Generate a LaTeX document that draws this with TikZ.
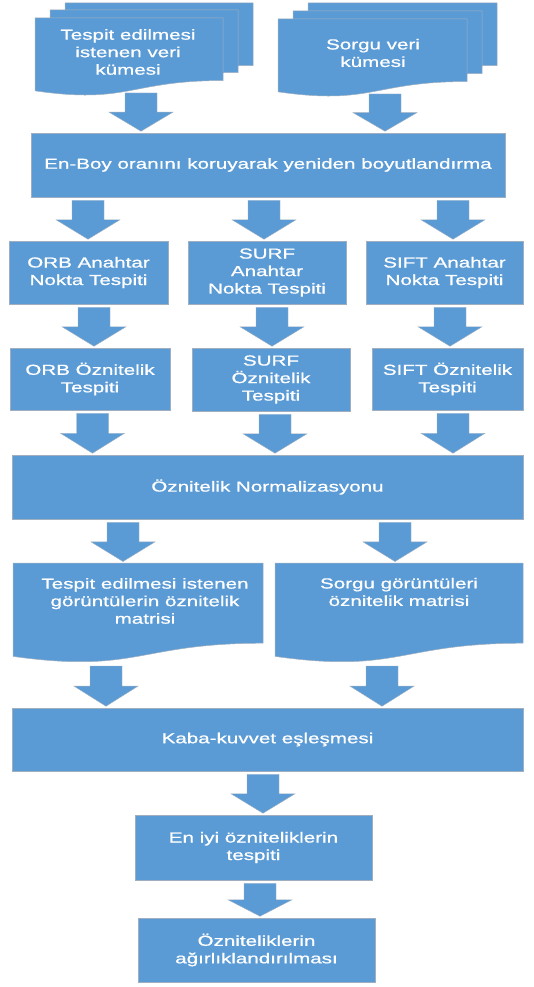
\documentclass[tikz,border=0pt]{standalone}
\usepackage{fontspec}
\setmainfont{Liberation Sans}[FakeStretch=1.42,FakeBold=0.8]
\usetikzlibrary{calc}
\definecolor{mavi}{RGB}{91,155,213}
\definecolor{kenar}{RGB}{160,175,192}
\newcommand\yazitipi{\fontsize{14.5}{17.5}\selectfont}
\tikzset{
  kutu/.style={draw=kenar, line width=0.5pt, fill=mavi, text=white, align=center, inner sep=2pt, font=\yazitipi},
  sayfa/.style={inner sep=0pt, outer sep=0pt},
  belgestil/.style={draw=kenar, line width=0.5pt, fill=mavi},
  yazi/.style={text=white, align=center, font=\yazitipi},
  okstil/.style={draw=kenar, line width=0.4pt, fill=mavi},
}
% block arrow at x, from one node to the next
\newcommand\barrow[4][-3]{%
  \pgfmathsetlengthmacro\okx{#2}%
  \path[okstil] let \p1=(#3.south), \p2=(#4.north) in
    (\okx-16pt,\y1+#1pt) -- (\okx+16pt,\y1+#1pt)
    -- (\okx+16pt,{(\y1+#1pt+\y2+1.5pt)/2}) -- (\okx+32pt,{(\y1+#1pt+\y2+1.5pt)/2})
    -- (\okx,\y2+1.5pt)
    -- (\okx-32pt,{(\y1+#1pt+\y2+1.5pt)/2}) -- (\okx-16pt,{(\y1+#1pt+\y2+1.5pt)/2}) -- cycle;}
% document shape with wavy bottom
\newcommand\belge[1]{%
  \path[belgestil] let \p1=(#1.north west), \p2=(#1.south east) in
    (\x1,\y1) -- (\x2,\y1) -- (\x2,{\y1-0.802*(\y1-\y2)})
    .. controls ({(\x1+\x2)/2},{\y1-0.802*(\y1-\y2)}) and ({(\x1+\x2)/2},{\y1-1.1075*(\y1-\y2)})
    .. (\x1,{\y1-0.934*(\y1-\y2)}) -- cycle;}

\begin{document}
\begin{tikzpicture}[x=1pt,y=-1pt]
  \useasboundingbox (0,0) rectangle (533,987);

  % veri kumeleri (multidocument)
  \node[sayfa, minimum width=188pt, minimum height=78pt] (veriL3) at (159,42) {};
  \node[sayfa, minimum width=188pt, minimum height=78pt] (veriL2) at (144,49) {};
  \node[sayfa, minimum width=188pt, minimum height=78pt] (veriL) at (129,57) {};
  \node[sayfa, minimum width=189pt, minimum height=78pt] (veriR3) at (402.5,42) {};
  \node[sayfa, minimum width=189pt, minimum height=78pt] (veriR2) at (387.5,50) {};
  \node[sayfa, minimum width=189pt, minimum height=78pt] (veriR) at (372.5,58) {};
  \foreach \s in {veriL3,veriL2,veriL,veriR3,veriR2,veriR} {\belge{\s}}
  \node[yazi] (veriLt) at (128,52) {Tespit edilmesi\\istenen veri\\kümesi};
  \node[yazi] (veriRt) at (373,53) {Sorgu veri\\kümesi};

  \node[kutu, minimum width=474pt, minimum height=64pt] (boyut) at (268,165) {En-Boy oranını koruyarak yeniden boyutlandırma};

  \node[kutu, minimum width=159pt, minimum height=63pt] (orbA) at (88.5,272.5) {ORB Anahtar\\Nokta Tespiti};
  \node[kutu, minimum width=158pt, minimum height=63pt] (surfA) at (267,272.5) {SURF\\Anahtar\\Nokta Tespiti};
  \node[kutu, minimum width=157pt, minimum height=63pt] (siftA) at (444.5,272.5) {SIFT Anahtar\\Nokta Tespiti};

  \node[kutu, minimum width=160pt, minimum height=62pt] (orbO) at (90,379) {ORB Öznitelik\\Tespiti};
  \node[kutu, minimum width=158pt, minimum height=63pt] (surfO) at (271,379.5) {SURF\\Öznitelik\\Tespiti};
  \node[kutu, minimum width=151pt, minimum height=62pt] (siftO) at (447.5,379) {SIFT Öznitelik\\Tespiti};

  \node[kutu, minimum width=511pt, minimum height=64pt] (norm) at (267.5,487) {Öznitelik Normalizasyonu};

  % matrisler (document)
  \node[sayfa, minimum width=250pt, minimum height=100pt] (solmat) at (138,613) {};
  \node[sayfa, minimum width=248pt, minimum height=100pt] (sagmat) at (399,613) {};
  \belge{solmat}
  \belge{sagmat}
  \node[yazi] (solmatt) at (145,601) {Tespit edilmesi istenen\\görüntülerin öznitelik\\matrisi};
  \node[yazi] (sagmatt) at (399,592) {Sorgu görüntüleri\\öznitelik matrisi};

  \node[kutu, minimum width=511pt, minimum height=63pt] (kaba) at (267.5,739.5) {Kaba-kuvvet eşleşmesi};
  \node[kutu, minimum width=237pt, minimum height=65pt] (eniyi) at (253.5,847.5) {En iyi özniteliklerin\\tespiti};
  \node[kutu, minimum width=237pt, minimum height=64pt] (agirlik) at (256.5,950) {Özniteliklerin\\ağırlıklandırılması};

  % oklar
  \barrow[3]{141}{veriL}{boyut}
  \barrow[3]{385}{veriR}{boyut}
  \foreach \ox/\a/\b in {88/boyut/orbA, 264/boyut/surfA, 453/boyut/siftA,
                         94/orbA/orbO, 272/surfA/surfO, 450/siftA/siftO,
                         92.5/orbO/norm, 275/surfO/norm, 453/siftO/norm,
                         123/norm/solmat, 395/norm/sagmat,
                         106/solmat/kaba, 382/sagmat/kaba,
                         263/kaba/eniyi, 260/eniyi/agirlik}
    {\barrow{\ox}{\a}{\b}}
\end{tikzpicture}
\end{document}
